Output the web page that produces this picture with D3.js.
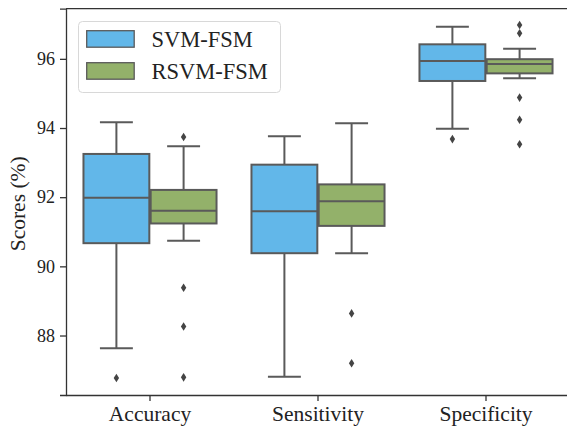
<!DOCTYPE html>
<html>
<head>
<meta charset="utf-8">
<script src="https://cdn.jsdelivr.net/npm/d3@7"></script>
<style>
  html, body { margin: 0; padding: 0; background: #fff; }
  svg { display: block; font-family: "Liberation Serif", "Times New Roman", serif; }
</style>
</head>
<body>
<svg id="chart" width="567" height="429"></svg>
<script>
// boxplot stats: [whiskerLow, q1, median, q3, whiskerHigh]
const categories = ['Accuracy', 'Sensitivity', 'Specificity'];
const seriesNames = ['SVM-FSM', 'RSVM-FSM'];
const seriesColors = ['#62b7e9', '#93b16a'];

const svmStats = [
  [87.63, 90.67, 91.98, 93.25, 94.17],
  [86.81, 90.38, 91.59, 92.94, 93.76],
  [93.98, 95.36, 95.94, 96.42, 96.93]
];
const svmOutliers = [
  [86.77],
  [],
  [93.68]
];
const rsvmStats = [
  [90.74, 91.24, 91.61, 92.21, 93.47],
  [90.38, 91.17, 91.88, 92.37, 94.14],
  [95.44, 95.58, 95.85, 95.99, 96.29]
];
const rsvmOutliers = [
  [93.74, 89.38, 88.26, 86.79],
  [88.64, 87.20],
  [96.98, 96.74, 94.88, 94.24, 93.53]
];
const yTicks = [88, 90, 92, 94, 96];
const yDomain = [86.28, 97.45];

const svg = d3.select('#chart');
const margin = { left: 66, top: 8.7, bottom: 395 };
const plotRight = 570; // the original axes run past the right edge of the picture

const x = d3.scaleBand()
  .domain(categories)
  .range([margin.left, plotRight])
  .paddingInner(0).paddingOuter(0);
const y = d3.scaleLinear().domain(yDomain).range([margin.bottom, margin.top]);

const hueWidth = x.bandwidth() * 0.8 / seriesNames.length;
const boxWidth = hueWidth * 0.98;
const edge = '#5a5a5a';

const series = [
  { stats: svmStats, outliers: svmOutliers },
  { stats: rsvmStats, outliers: rsvmOutliers }
];

const g = svg.append('g');

series.forEach((s, si) => {
  categories.forEach((cat, ci) => {
    const [lo, q1, med, q3, hi] = s.stats[ci];
    const cx = x(cat) + x.bandwidth() * 0.1 + hueWidth * (si + 0.5);
    const bg = g.append('g');
    // whiskers
    bg.append('line').attr('x1', cx).attr('x2', cx).attr('y1', y(q3)).attr('y2', y(hi))
      .attr('stroke', edge).attr('stroke-width', 2);
    bg.append('line').attr('x1', cx).attr('x2', cx).attr('y1', y(q1)).attr('y2', y(lo))
      .attr('stroke', edge).attr('stroke-width', 2);
    // caps
    [lo, hi].forEach(v => {
      bg.append('line').attr('x1', cx - boxWidth / 4).attr('x2', cx + boxWidth / 4)
        .attr('y1', y(v)).attr('y2', y(v))
        .attr('stroke', edge).attr('stroke-width', 2);
    });
    // box
    bg.append('rect')
      .attr('x', cx - boxWidth / 2).attr('width', boxWidth)
      .attr('y', y(q3)).attr('height', y(q1) - y(q3))
      .attr('fill', seriesColors[si]).attr('stroke', edge).attr('stroke-width', 2);
    // median
    bg.append('line').attr('x1', cx - boxWidth / 2).attr('x2', cx + boxWidth / 2)
      .attr('y1', y(med)).attr('y2', y(med))
      .attr('stroke', edge).attr('stroke-width', 2);
    // fliers (thin diamonds)
    bg.selectAll('path.flier').data(s.outliers[ci]).join('path')
      .attr('class', 'flier')
      .attr('d', d => `M${cx},${y(d) - 4.3}L${cx + 2.7},${y(d)}L${cx},${y(d) + 4.3}L${cx - 2.7},${y(d)}Z`)
      .attr('fill', '#444');
  });
});

// axes
const spine = '#333';
svg.append('line').attr('x1', margin.left).attr('x2', 567).attr('y1', margin.top).attr('y2', margin.top)
  .attr('stroke', spine).attr('stroke-width', 1.3);

const yAxis = svg.append('g')
  .attr('transform', `translate(${margin.left},0)`)
  .call(d3.axisLeft(y).tickValues(yTicks).tickSize(6).tickPadding(5).tickFormat(d3.format('d')));
yAxis.select('.domain').attr('stroke', spine).attr('stroke-width', 1.3);
yAxis.selectAll('.tick line').attr('stroke', spine).attr('stroke-width', 1.3);
yAxis.selectAll('.tick text').attr('font-size', 18).attr('fill', '#222')
  .attr('font-family', '"Liberation Serif", serif');

const xAxis = svg.append('g')
  .attr('transform', `translate(0,${margin.bottom})`)
  .call(d3.axisBottom(x).tickSize(6).tickPadding(5).tickSizeOuter(0));
xAxis.select('.domain').attr('stroke', spine).attr('stroke-width', 1.3);
xAxis.selectAll('.tick line').attr('stroke', spine).attr('stroke-width', 1.3);
xAxis.selectAll('.tick text').attr('font-size', 21.5).attr('fill', '#222')
  .attr('font-family', '"Liberation Serif", serif');

// y label
svg.append('text')
  .attr('transform', `translate(25,${(margin.top + margin.bottom) / 2 + 2}) rotate(-90)`)
  .attr('text-anchor', 'middle')
  .attr('font-size', 21.5).attr('fill', '#222')
  .text('Scores (%)');

// legend
const legend = svg.append('g');
legend.append('rect')
  .attr('x', 78.5).attr('y', 21.5).attr('width', 202).attr('height', 71).attr('rx', 4)
  .attr('fill', '#fff').attr('fill-opacity', 0.8)
  .attr('stroke', '#d8d8d8').attr('stroke-width', 1);
seriesNames.forEach((name, i) => {
  const ly = 30.7 + i * 32;
  legend.append('rect')
    .attr('x', 86.7).attr('y', ly).attr('width', 47.5).attr('height', 16.5)
    .attr('fill', seriesColors[i]).attr('stroke', edge).attr('stroke-width', 1.3);
  legend.append('text')
    .attr('x', 151.5).attr('y', ly + 16)
    .attr('font-size', 22.5).attr('fill', '#222')
    .text(name);
});
</script>
</body>
</html>
